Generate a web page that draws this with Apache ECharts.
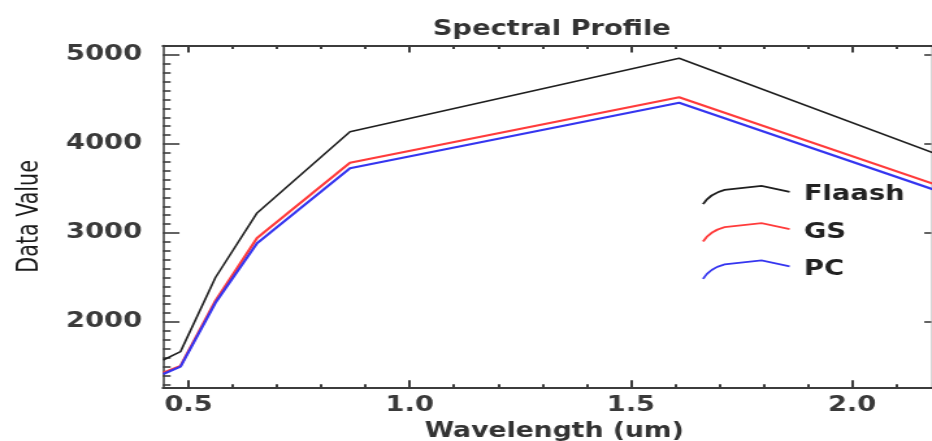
<!DOCTYPE html>
<html>
<head>
<meta charset="utf-8">
<script src="https://cdn.jsdelivr.net/npm/echarts@6/dist/echarts.min.js"></script>
<style>
  html, body { margin: 0; padding: 0; background: #fff; overflow: hidden; }
  /* the plot is laid out on a narrower canvas and widened to the 932px frame */
  #chart { width: 717px; height: 441px; transform: scaleX(1.2998); transform-origin: 0 0; }
</style>
</head>
<body>
<div id="chart"></div>
<script>
// Band centre wavelengths (um) and reflectance profiles for each correction method
const wavelengths = [0.443, 0.482, 0.561, 0.655, 0.865, 1.609, 2.201];
const flaash = [1573, 1667, 2500, 3225, 4138, 4963, 3867];
const gs     = [1430, 1506, 2240, 2944, 3790, 4525, 3523];
const pc     = [1416, 1498, 2215, 2884, 3727, 4464, 3460];
const seriesNames = ['Flaash', 'GS', 'PC'];

// Tick positions
const xMajorTicks = [0.5, 1.0, 1.5, 2.0];
const xMinorTicks = [0.6, 0.7, 0.8, 0.9, 1.1, 1.2, 1.3, 1.4, 1.6, 1.7, 1.8, 1.9, 2.1];
const yMajorTicks = [2000, 3000, 4000, 5000];
const yMinorTicks = [1300, 1400, 1500, 1600, 1700, 1800, 1900,
                     2100, 2200, 2300, 2400, 2500, 2600, 2700, 2800, 2900,
                     3100, 3200, 3300, 3400, 3500, 3600, 3700, 3800, 3900,
                     4100, 4200, 4300, 4400, 4500, 4600, 4700, 4800, 4900,
                     5100];

const X_MIN = 0.442, X_MAX = 2.179;
const Y_MIN = 1266, Y_MAX = 5107;

const FONT = "'DejaVu Sans', Verdana, sans-serif";
const AXIS_COLOR = '#3c3c3c';
const LABEL_COLOR = '#3a3a3a';
const COLORS = ['#1e1e1e', '#ff3b3b', '#3535f0'];
const WIDTHS = [1.6, 2.2, 2.2];

const pairs = vals => wavelengths.map((w, i) => [w, vals[i]]);
const profiles = [flaash, gs, pc];

const ICON = 'path://M0,18.4 Q5,8 16.6,4 L45,0 L66.6,6';

function xAxisDef(position, ticks, len, showLine, extra) {
  return Object.assign({
    type: 'value', position: position, min: X_MIN, max: X_MAX,
    axisLine: { show: showLine, lineStyle: { color: AXIS_COLOR, width: 2 } },
    axisTick: { show: true, inside: true, length: len, customValues: ticks,
                lineStyle: { color: AXIS_COLOR, width: 2 } },
    axisLabel: { show: false },
    splitLine: { show: false }
  }, extra || {});
}
function yAxisDef(position, ticks, len, showLine, lineColor, extra) {
  return Object.assign({
    type: 'value', position: position, min: Y_MIN, max: Y_MAX,
    axisLine: { show: showLine, lineStyle: { color: lineColor, width: 1.5 } },
    axisTick: { show: true, inside: true, length: len, customValues: ticks,
                lineStyle: { color: AXIS_COLOR, width: 1.6 } },
    axisLabel: { show: false },
    splitLine: { show: false }
  }, extra || {});
}

const chart = echarts.init(document.getElementById('chart'), null, { renderer: 'canvas' });
chart.setOption({
  animation: false,
  backgroundColor: '#fff',
  title: {
    text: 'Spectral Profile',
    left: 328, top: 14,
    textStyle: { fontFamily: FONT, fontWeight: 'bold', fontSize: 21, color: '#333' }
  },
  grid: { left: 125.25, right: 0.5, top: 45.5, bottom: 53.7,
          containLabel: false, outerBoundsMode: 'none' },
  legend: {
    orient: 'vertical',
    left: 540, top: 184,
    padding: 0,
    itemWidth: 66.6, itemHeight: 18.4, itemGap: 15.3,
    icon: ICON,
    textStyle: { fontFamily: FONT, fontWeight: 'bold', fontSize: 21, color: '#222',
                 lineHeight: 22, padding: [0, 0, 0, 6] },
    data: seriesNames.map((n, i) => ({
      name: n,
      itemStyle: { color: 'transparent', borderColor: COLORS[i], borderWidth: 1.8 }
    }))
  },
  xAxis: [
    xAxisDef('bottom', xMajorTicks, 7, true, {
      name: 'Wavelength (um)', nameLocation: 'middle', nameGap: 34,
      nameTextStyle: { fontFamily: FONT, fontWeight: 'bold', fontSize: 20.5, color: '#333',
                       padding: [0, 0, 0, 11] },
      axisLabel: { show: true, customValues: xMajorTicks, margin: 8,
                   fontFamily: FONT, fontWeight: 'bold', fontSize: 21, color: LABEL_COLOR,
                   formatter: v => v.toFixed(1) }
    }),
    xAxisDef('bottom', xMinorTicks, 3, false),
    xAxisDef('top', xMajorTicks, 7, true),
    xAxisDef('top', xMinorTicks, 3.5, false)
  ],
  yAxis: [
    yAxisDef('left', yMajorTicks, 12.8, true, AXIS_COLOR, {
      name: 'Data Value', nameLocation: 'middle', nameGap: 91, nameRotate: 90,
      nameTextStyle: { fontFamily: "'Liberation Sans Narrow', 'DejaVu Sans Condensed', sans-serif",
                       fontSize: 23, color: '#1a1a1a' },
      axisLabel: { show: true, customValues: yMajorTicks, margin: 16,
                   fontFamily: FONT, fontWeight: 'bold', fontSize: 21, color: LABEL_COLOR,
                   formatter: v => String(v) }
    }),
    yAxisDef('left', yMinorTicks, 6, false, AXIS_COLOR),
    yAxisDef('right', yMajorTicks, 5.4, true, '#c8c8c8')
  ],
  series: profiles.map((vals, i) => ({
    name: seriesNames[i],
    type: 'line',
    xAxisIndex: 0, yAxisIndex: 0,
    data: pairs(vals),
    showSymbol: false,
    symbol: 'none',
    clip: true,
    lineStyle: { color: COLORS[i], width: WIDTHS[i] },
    itemStyle: { color: COLORS[i] },
    z: 2 + i
  }))
});
</script>
</body>
</html>
